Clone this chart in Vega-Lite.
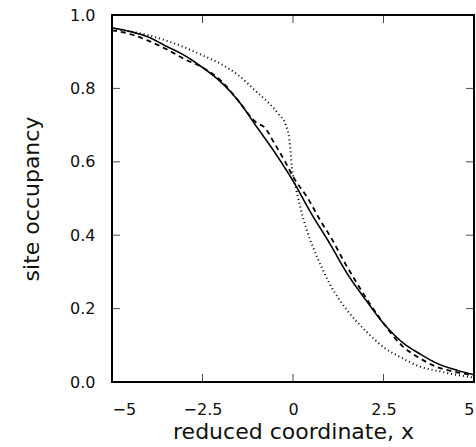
{
  "$schema": "https://vega.github.io/schema/vega-lite/v6.json",
  "autosize": "none",
  "width": 362,
  "height": 367,
  "padding": {"left": 112, "top": 15, "right": 2, "bottom": 65},
  "background": "white",
  "config": {
    "view": {"stroke": "#000", "strokeWidth": 2},
    "font": "DejaVu Sans",
    "axis": {
      "domain": false,
      "grid": false,
      "ticks": false,
      "tickSize": 0,
      "labelColor": "#111",
      "titleColor": "#111",
      "labelFont": "DejaVu Sans",
      "titleFont": "DejaVu Sans",
      "labelFontSize": 16,
      "titleFontSize": 22,
      "titleFontWeight": "normal"
    }
  },
  "datasets": {
    "xticks": [{"x": -2.5}, {"x": 0}, {"x": 2.5}],
    "yticks": [{"y": 0.2}, {"y": 0.4}, {"y": 0.6}, {"y": 0.8}]
  },
  "layer": [
    {
      "data": {
        "values": [
          {"s": "solid", "x": -5, "y": 0.965},
          {"s": "solid", "x": -4.5, "y": 0.955},
          {"s": "solid", "x": -4, "y": 0.94},
          {"s": "solid", "x": -3.5, "y": 0.915},
          {"s": "solid", "x": -3, "y": 0.89},
          {"s": "solid", "x": -2.5, "y": 0.857},
          {"s": "solid", "x": -2, "y": 0.818},
          {"s": "solid", "x": -1.5, "y": 0.765},
          {"s": "solid", "x": -1, "y": 0.695},
          {"s": "solid", "x": -0.5, "y": 0.625},
          {"s": "solid", "x": 0, "y": 0.548},
          {"s": "solid", "x": 0.5, "y": 0.46},
          {"s": "solid", "x": 1, "y": 0.38},
          {"s": "solid", "x": 1.5, "y": 0.295},
          {"s": "solid", "x": 2, "y": 0.225},
          {"s": "solid", "x": 2.5, "y": 0.16},
          {"s": "solid", "x": 3, "y": 0.11},
          {"s": "solid", "x": 3.5, "y": 0.077},
          {"s": "solid", "x": 4, "y": 0.05},
          {"s": "solid", "x": 4.5, "y": 0.033},
          {"s": "solid", "x": 5, "y": 0.02},
          {"s": "dashed", "x": -5, "y": 0.958},
          {"s": "dashed", "x": -4.5, "y": 0.948},
          {"s": "dashed", "x": -4, "y": 0.93},
          {"s": "dashed", "x": -3.5, "y": 0.907},
          {"s": "dashed", "x": -3, "y": 0.88},
          {"s": "dashed", "x": -2.5, "y": 0.857},
          {"s": "dashed", "x": -2, "y": 0.822},
          {"s": "dashed", "x": -1.5, "y": 0.765},
          {"s": "dashed", "x": -1.1, "y": 0.715},
          {"s": "dashed", "x": -1, "y": 0.706},
          {"s": "dashed", "x": -0.8, "y": 0.695},
          {"s": "dashed", "x": -0.5, "y": 0.648},
          {"s": "dashed", "x": -0.2, "y": 0.597},
          {"s": "dashed", "x": 0, "y": 0.56},
          {"s": "dashed", "x": 0.4, "y": 0.502},
          {"s": "dashed", "x": 0.75, "y": 0.441},
          {"s": "dashed", "x": 1.1, "y": 0.385},
          {"s": "dashed", "x": 1.4, "y": 0.33},
          {"s": "dashed", "x": 1.7, "y": 0.28},
          {"s": "dashed", "x": 2, "y": 0.232},
          {"s": "dashed", "x": 2.5, "y": 0.16},
          {"s": "dashed", "x": 3, "y": 0.1},
          {"s": "dashed", "x": 3.5, "y": 0.065},
          {"s": "dashed", "x": 4, "y": 0.04},
          {"s": "dashed", "x": 4.5, "y": 0.027},
          {"s": "dashed", "x": 5, "y": 0.018},
          {"s": "dotted", "x": -5, "y": 0.962},
          {"s": "dotted", "x": -4.5, "y": 0.955},
          {"s": "dotted", "x": -4, "y": 0.945},
          {"s": "dotted", "x": -3.5, "y": 0.93},
          {"s": "dotted", "x": -3, "y": 0.912},
          {"s": "dotted", "x": -2.5, "y": 0.89},
          {"s": "dotted", "x": -2, "y": 0.867},
          {"s": "dotted", "x": -1.5, "y": 0.835},
          {"s": "dotted", "x": -1, "y": 0.79},
          {"s": "dotted", "x": -0.7, "y": 0.763},
          {"s": "dotted", "x": -0.4, "y": 0.73},
          {"s": "dotted", "x": -0.2, "y": 0.7},
          {"s": "dotted", "x": -0.1, "y": 0.66},
          {"s": "dotted", "x": -0.03, "y": 0.586},
          {"s": "dotted", "x": 0.1, "y": 0.52},
          {"s": "dotted", "x": 0.3, "y": 0.44},
          {"s": "dotted", "x": 0.55, "y": 0.368},
          {"s": "dotted", "x": 0.8, "y": 0.311},
          {"s": "dotted", "x": 1, "y": 0.27},
          {"s": "dotted", "x": 1.5, "y": 0.195},
          {"s": "dotted", "x": 2, "y": 0.14},
          {"s": "dotted", "x": 2.5, "y": 0.095},
          {"s": "dotted", "x": 3, "y": 0.066},
          {"s": "dotted", "x": 3.5, "y": 0.042},
          {"s": "dotted", "x": 4, "y": 0.03},
          {"s": "dotted", "x": 4.5, "y": 0.02},
          {"s": "dotted", "x": 5, "y": 0.012}
        ]
      },
      "mark": {"type": "line", "color": "#000", "interpolate": "monotone", "clip": true},
      "encoding": {
        "x": {"field": "x", "type": "quantitative", "scale": {"domain": [-5, 5], "nice": false},
          "axis": {"orient": "bottom", "values": [-5, -2.5, 0, 2.5, 5], "format": ".1~f", "title": "reduced coordinate, x", "labelPadding": 19, "titlePadding": 4}},
        "y": {"field": "y", "type": "quantitative", "scale": {"domain": [0, 1], "nice": false},
          "axis": {"orient": "left", "values": [0, 0.2, 0.4, 0.6, 0.8, 1], "format": ".1f", "title": "site occupancy", "labelPadding": 17, "titlePadding": 26}},
        "detail": {"field": "s"},
        "strokeDash": {"field": "s", "type": "nominal", "legend": null,
          "scale": {"domain": ["solid", "dashed", "dotted"], "range": [[1, 0], [5, 4], [1, 3]]}},
        "strokeWidth": {"field": "s", "type": "nominal", "legend": null,
          "scale": {"domain": ["solid", "dashed", "dotted"], "range": [1.6, 2, 1]}}
      }
    },
    {
      "data": {"name": "xticks"},
      "mark": {"type": "tick", "orient": "vertical", "color": "#000", "thickness": 1, "size": 16, "clip": true},
      "encoding": {
        "x": {"field": "x", "type": "quantitative"},
        "y": {"datum": 0, "type": "quantitative"}
      }
    },
    {
      "data": {"name": "xticks"},
      "mark": {"type": "tick", "orient": "vertical", "color": "#000", "thickness": 1, "size": 16, "clip": true},
      "encoding": {
        "x": {"field": "x", "type": "quantitative"},
        "y": {"datum": 1, "type": "quantitative"}
      }
    },
    {
      "data": {"name": "yticks"},
      "mark": {"type": "tick", "orient": "horizontal", "color": "#000", "thickness": 1, "size": 16, "clip": true},
      "encoding": {
        "y": {"field": "y", "type": "quantitative"},
        "x": {"datum": -5, "type": "quantitative"}
      }
    },
    {
      "data": {"name": "yticks"},
      "mark": {"type": "tick", "orient": "horizontal", "color": "#000", "thickness": 1, "size": 16, "clip": true},
      "encoding": {
        "y": {"field": "y", "type": "quantitative"},
        "x": {"datum": 5, "type": "quantitative"}
      }
    }
  ]
}
